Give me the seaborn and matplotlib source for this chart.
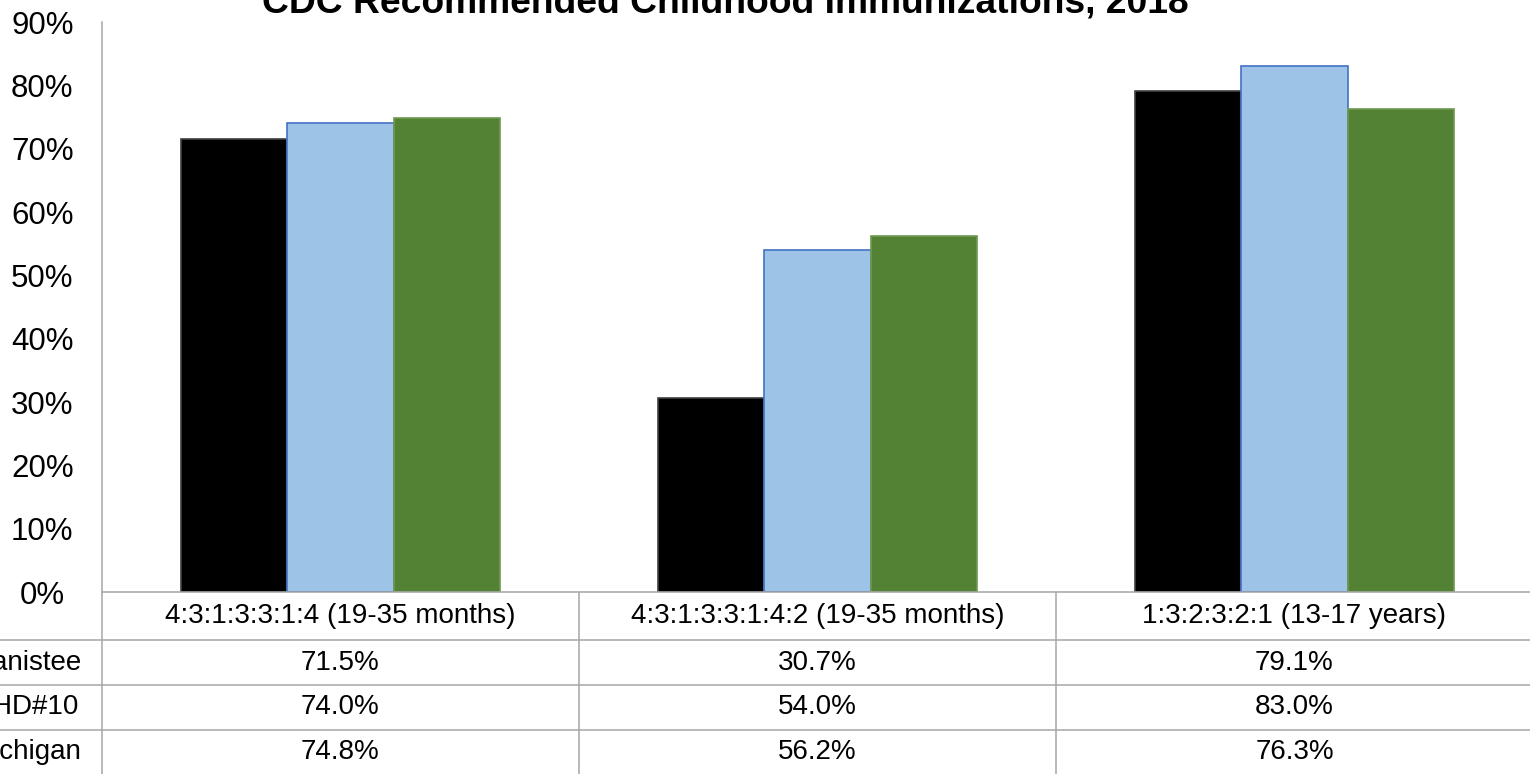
import matplotlib
matplotlib.use("Agg")
import matplotlib.pyplot as plt
from matplotlib.ticker import PercentFormatter
import pandas as pd
import seaborn as sns

# data
categories = ["4:3:1:3:3:1:4 (19-35 months)",
              "4:3:1:3:3:1:4:2 (19-35 months)",
              "1:3:2:3:2:1 (13-17 years)"]
series = ["Manistee", "DHD#10", "Michigan"]
manistee = [71.5, 30.7, 79.1]
dhd10 = [74.0, 54.0, 83.0]
michigan = [74.8, 56.2, 76.3]
title = "CDC Recommended Childhood Immunizations, 2018"

bar_colors = ["#000000", "#9DC3E6", "#548235"]
edge_colors = ["#404040", "#4472C4", "#6E9A52"]
grid_gray = "#A6A6A6"

sns.set_theme(style="white")
plt.rcParams['font.family'] = ['Liberation Sans', 'DejaVu Sans']

W, H = 1530, 774
fig = plt.figure(figsize=(W / 100, H / 100), dpi=100)

df = pd.DataFrame({
    "category": categories * 3,
    "series": [s for s in series for _ in categories],
    "value": manistee + dhd10 + michigan,
})

left = 102 / W
width = 1431 / W
ax = fig.add_axes([left, (H - 592) / H, width, (592 - 22) / H])
sns.barplot(data=df, x="category", y="value", hue="series",
            order=categories, hue_order=series, palette=bar_colors,
            width=0.667, saturation=1, legend=False, ax=ax)
for cont, ec in zip(ax.containers, edge_colors):
    for bar in cont:
        bar.set_edgecolor(ec)
        bar.set_linewidth(1.2)

ax.set_xlim(-0.5, 2.5)
ax.set_ylim(0, 90)
ax.set_yticks(range(0, 91, 10))
ax.yaxis.set_major_formatter(PercentFormatter(100, decimals=0))
ax.set_xticks([])
ax.set_xlabel("")
ax.set_ylabel("")
ax.tick_params(axis="y", length=0, pad=43, labelsize=22.5, labelcolor="black")
plt.setp(ax.yaxis.get_majorticklabels(), ha="center")
for s in ["top", "right"]:
    ax.spines[s].set_visible(False)
for s in ["left", "bottom"]:
    ax.spines[s].set_color(grid_gray)
    ax.spines[s].set_linewidth(1.1)

# data table under the plot (y in pixels below the 0% line)
tab = fig.add_axes([left, 0, width, 182 / H])
tab.set_xlim(-0.5, 2.5)
tab.set_ylim(182, 0)
tab.axis("off")
row_edges = [0, 48, 93, 138, 182]
x_fig_left = -0.5 - 102 / 477
tab.vlines([-0.5, 0.5, 1.5], 0, 182, color=grid_gray, lw=1.1, clip_on=False)
tab.hlines(row_edges[1:4], x_fig_left, 2.5, color=grid_gray, lw=1.1, clip_on=False)

def row_mid(r):
    return (row_edges[r] + row_edges[r + 1]) / 2

for i, cat in enumerate(categories):
    tab.text(i, row_mid(0), cat, ha="center", va="center", fontsize=20, color="black")
for r, (name, vals) in enumerate(zip(series, [manistee, dhd10, michigan])):
    tab.text(-0.5 - 76 / 477, row_mid(r + 1), name, ha="center", va="center",
             fontsize=20, color="black", clip_on=False)
    for i, v in enumerate(vals):
        tab.text(i, row_mid(r + 1), f"{v:.1f}%", ha="center", va="center",
                 fontsize=20, color="black")

fig.text(725 / W, 1 - 12 / H, title, ha="center", va="baseline",
         fontsize=26.8, fontweight="bold", color="black")

fig.savefig("out.png", dpi=100)
plt.close()
